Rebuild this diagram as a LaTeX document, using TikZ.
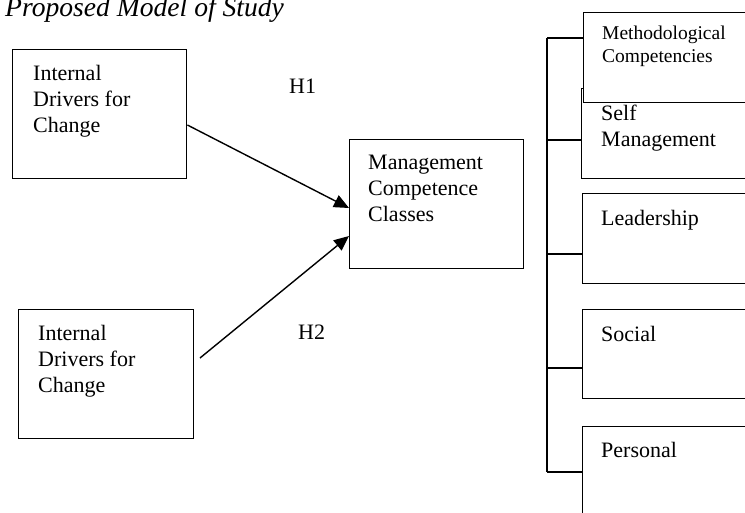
\documentclass[tikz,border=0pt]{standalone}
\usepackage{fontspec}
\setmainfont{Liberation Serif}
\usetikzlibrary{arrows.meta}

\begin{document}
\begin{tikzpicture}[x=1pt,y=-1pt,
  box/.style={draw,line width=1.4pt,fill=white,anchor=north west,inner sep=0pt},
  lbl/.style={anchor=north west,inner sep=0pt,align=left,font=\fontsize{22}{26}\selectfont},
  hyp/.style={anchor=base west,inner sep=0pt,font=\fontsize{22}{26}\selectfont},
  arr/.style={line width=1.4pt,-{Triangle[length=15pt,width=13pt]}},
  tie/.style={line width=1.4pt}]
\clip (0,0) rectangle (745,512);
\node[anchor=base west,inner sep=0pt,font=\fontsize{27.6}{32}\selectfont\itshape] (title) at (5,16) {Proposed Model of Study};
\node[box,minimum width=174pt,minimum height=129pt] (drvA) at (12,49) {};
\node[lbl] (txtA) at (33,65) {Internal\\Drivers for\\Change};
\node[box,minimum width=175pt,minimum height=129pt] (drvB) at (18,309) {};
\node[lbl] (txtB) at (38,325) {Internal\\Drivers for\\Change};
\node[box,minimum width=174pt,minimum height=129pt] (mgmt) at (349,139) {};
\node[lbl] (txtM) at (368,155) {Management\\Competence\\Classes};
\node[hyp] (h1) at (289,93) {H1};
\node[hyp] (h2) at (298,339) {H2};
\coordinate (startB) at (200,358);
\draw[arr] (drvA.east |- 0,125) -- (mgmt.west |- 0,208);
\draw[arr] (startB) -- (mgmt.west |- 0,236);
\node[box,minimum width=200pt,minimum height=90pt] (self) at (581,88) {};
\node[box,minimum width=200pt,minimum height=90pt] (meth) at (583,12) {};
\node[box,minimum width=200pt,minimum height=90pt] (lead) at (582,193) {};
\node[box,minimum width=200pt,minimum height=89pt] (soc) at (582,309) {};
\node[box,minimum width=200pt,minimum height=100pt] (pers) at (582,426) {};
\node[anchor=north west,inner sep=0pt,align=left,font=\fontsize{19.5}{23}\selectfont] (txtMe) at (602,26) {Methodological\\Competencies};
\node[lbl] (txtS) at (601,105) {Self\\Management};
\node[lbl] (txtL) at (601,210) {Leadership};
\node[lbl] (txtSo) at (601,326) {Social};
\node[lbl] (txtP) at (601,442) {Personal};
\coordinate (s1) at (547,38);
\coordinate (s2) at (547,140);
\coordinate (s3) at (547,254);
\coordinate (s4) at (547,368);
\coordinate (s5) at (547,472);
\draw[tie] (s1) -- (s5);
\draw[tie] (s1) -- (s1 -| meth.west);
\draw[tie] (s2) -- (s2 -| self.west);
\draw[tie] (s3) -- (s3 -| lead.west);
\draw[tie] (s4) -- (s4 -| soc.west);
\draw[tie] (s5) -- (s5 -| pers.west);
\end{tikzpicture}
\end{document}
